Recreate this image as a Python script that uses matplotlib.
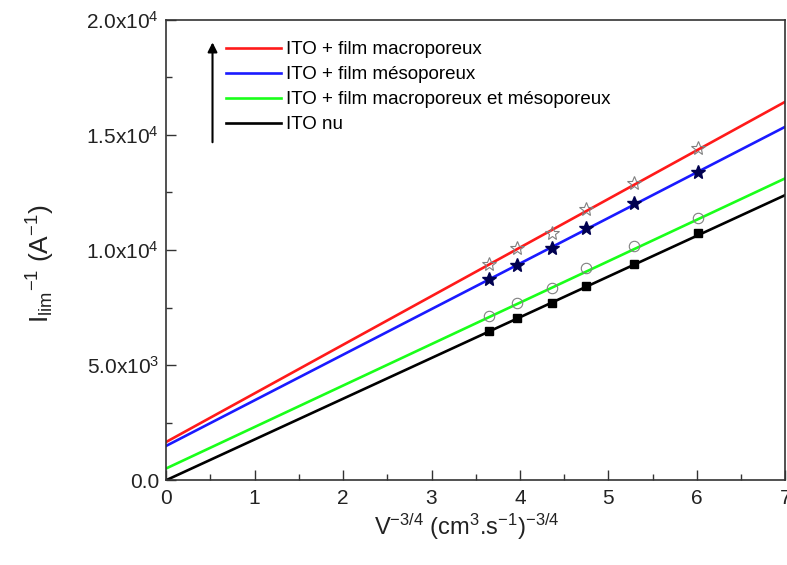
import numpy as np
import matplotlib
matplotlib.use('Agg')
import matplotlib.pyplot as plt
from matplotlib.ticker import MultipleLocator, FuncFormatter

plt.rcParams['font.family'] = ['Liberation Sans', 'DejaVu Sans']
plt.rcParams['mathtext.fontset'] = 'custom'
plt.rcParams['mathtext.rm'] = 'Liberation Sans'
plt.rcParams['mathtext.it'] = 'Liberation Sans:italic'

# data
x_pts = [3.65, 3.97, 4.36, 4.75, 5.29, 6.01]
y_macro = [9390, 10070, 10730, 11770, 12900, 14420]
y_meso = [8720, 9350, 10070, 10970, 12030, 13400]
y_macro_meso = [7130, 7680, 8360, 9200, 10170, 11390]
y_nu = [6490, 7030, 7680, 8450, 9390, 10720]

labels = ['ITO + film macroporeux', 'ITO + film mésoporeux',
          'ITO + film macroporeux et mésoporeux', 'ITO nu']
colors = ['#ff1a1a', '#1a1aff', '#1aff1a', 'black']
intercepts = [1660, 1490, 510, 0]
slopes = [2112, 1981, 1801, 1770]

fig = plt.figure(figsize=(7.87, 5.65), dpi=100)
ax = fig.add_axes([0.211, 0.150, 0.787, 0.815])

x_line = np.array([0, 7])
for b, m, c, lab in zip(intercepts, slopes, colors, labels):
    ax.plot(x_line, b + m * x_line, color=c, lw=1.9, label=lab, zorder=2)

ax.plot(x_pts, y_macro, ls='none', marker='*', ms=10, mfc='none',
        mec='gray', mew=0.8, zorder=3)
ax.plot(x_pts, y_meso, ls='none', marker='*', ms=10, mfc='#000050',
        mec='#000050', zorder=3)
ax.plot(x_pts, y_macro_meso, ls='none', marker='o', ms=7.5, mfc='none',
        mec='gray', mew=0.8, zorder=3)
ax.plot(x_pts, y_nu, ls='none', marker='s', ms=6, color='black', zorder=3)

ax.set_xlim(0, 7)
ax.set_ylim(0, 20000)
ax.xaxis.set_major_locator(MultipleLocator(1))
ax.xaxis.set_minor_locator(MultipleLocator(0.5))
ax.yaxis.set_major_locator(MultipleLocator(5000))
ax.yaxis.set_minor_locator(MultipleLocator(2500))


def yfmt(v, pos):
    if v <= 0:
        return '0.0'
    e = int(np.floor(np.log10(v)))
    return '%.1fx10$^{%d}$' % (v / 10 ** e, e)


ax.yaxis.set_major_formatter(FuncFormatter(yfmt))
ax.tick_params(which='both', direction='in', labelsize=15, width=1,
               color='#333333', labelcolor='#222222')
ax.tick_params(which='major', length=7)
ax.tick_params(which='minor', length=4)
ax.tick_params(axis='x', pad=6)
ax.tick_params(axis='y', pad=5)
for s in ax.spines.values():
    s.set_color('#333333')
    s.set_linewidth(1.2)

ax.set_xlabel('V$^{-3/4}$ (cm$^{3}$.s$^{-1}$)$^{-3/4}$', fontsize=17,
              color='#222222')
ax.xaxis.set_label_coords(0.485, -0.068)
ax.set_ylabel('I$_{\\rm lim}$$^{-1}$ (A$^{-1}$)', fontsize=19,
              color='#222222')
ax.yaxis.set_label_coords(-0.176, 0.47)

leg = ax.legend(loc='upper left', bbox_to_anchor=(0.07, 0.99), frameon=False,
                fontsize=13.5, handlelength=2.9, handletextpad=0.3,
                labelspacing=0.42)

ax.annotate('', xy=(0.075, 0.957), xytext=(0.075, 0.728),
            xycoords='axes fraction',
            arrowprops=dict(arrowstyle='-|>', color='black', lw=1.5,
                            mutation_scale=14))

fig.savefig('out.png', dpi=100)
